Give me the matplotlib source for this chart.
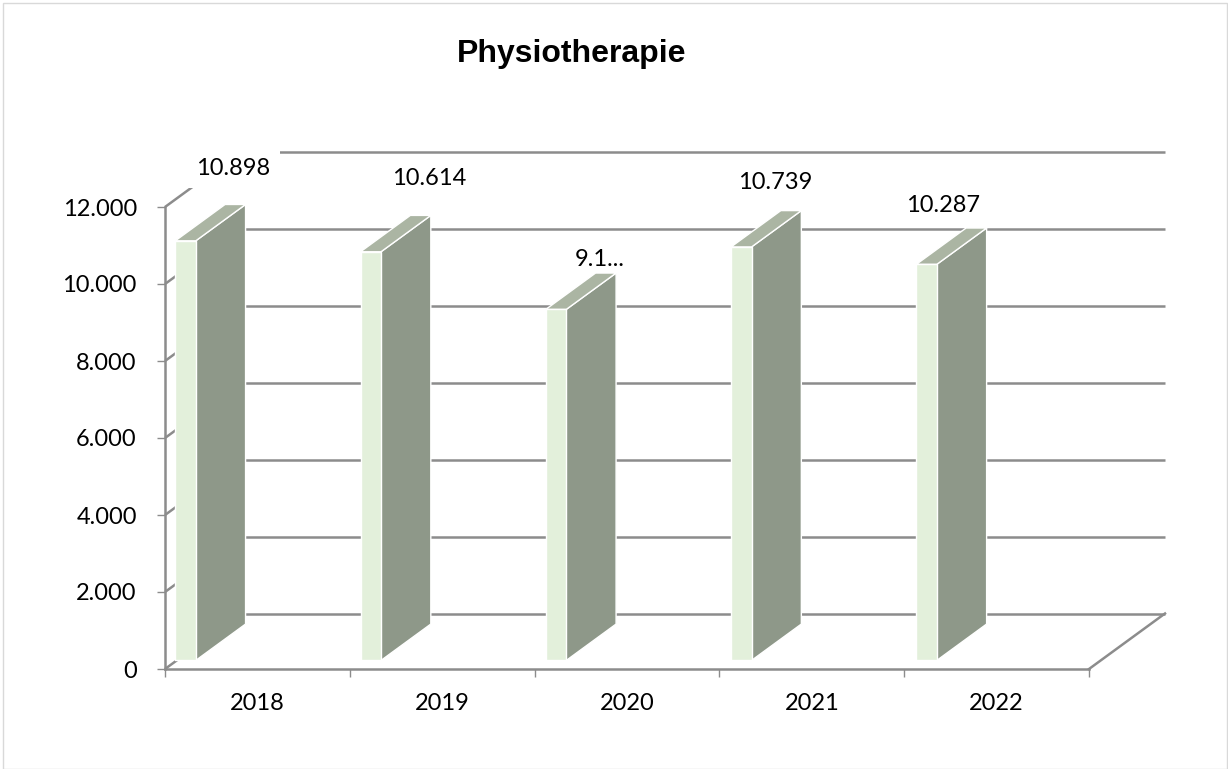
import matplotlib
matplotlib.use("Agg")
import matplotlib.pyplot as plt
from matplotlib.patches import Polygon, Rectangle

years = ["2018", "2019", "2020", "2021", "2022"]
values = [10898, 10614, 9117, 10739, 10287]
value_labels = ["10.898", "10.614", "9.1...", "10.739", "10.287"]
y_ticks = [0, 2000, 4000, 6000, 8000, 10000, 12000]
y_tick_labels = ["0", "2.000", "4.000", "6.000", "8.000", "10.000", "12.000"]

W, H = 1228, 769
FONT = "Lato"
LABEL_OFFSETS = [(48, 72), (58, 73), (44, 50), (34, 64), (16, 59)]
GRID = "#8C8C8C"
FRONT, SIDE, TOP = "#E3F0DB", "#8E9889", "#ABB5A3"

fig = plt.figure(figsize=(W / 100, H / 100), dpi=100, facecolor="white")
fig.add_artist(Rectangle((2.5 / W, 0.5 / H), (W - 4) / W, (H - 3) / H, transform=fig.transFigure,
                         fill=False, edgecolor="#D9D9D9", linewidth=1))

ax = fig.add_axes([165 / W, (H - 669) / H, 924 / W, 462 / H])
ax.set_xlim(0, 5)
ax.set_ylim(0, 12000)
ax.patch.set_alpha(0)

# wall depth in data units
DX = 76 / (924 / 5)
DY = 55.5 / (462 / 12000)

def sh(x, y, d):
    return (x + d * DX, y + d * DY)

# back wall gridlines and side-wall diagonals
for t in y_ticks:
    x0, y0 = sh(0, t, 1)
    x1, y1 = sh(5, t, 1)
    ax.plot([x0, x1], [y0, y1], color=GRID, lw=1.8, clip_on=False, zorder=1, solid_capstyle="butt")
    ax.plot([0, x0], [t, y0], color=GRID, lw=1.8, clip_on=False, zorder=1, solid_capstyle="butt")
x0, y0 = sh(5, 0, 0)
x1, y1 = sh(5, 0, 1)
ax.plot([x0, x1], [y0, y1], color=GRID, lw=1.8, clip_on=False, zorder=1)

# bars
BAR_W = 20.5 / (924 / 5)
BAR_SHIFT = -1.5 / (924 / 5)
BAR_STEP = 1.0025
D0, D1 = 0.155, 0.81
for i, v in enumerate(values):
    l = i * BAR_STEP + BAR_SHIFT
    r = l + BAR_W
    front = [sh(l, 0, D0), sh(r, 0, D0), sh(r, v, D0), sh(l, v, D0)]
    side = [sh(r, 0, D0), sh(r, 0, D1), sh(r, v, D1), sh(r, v, D0)]
    top = [sh(l, v, D0), sh(r, v, D0), sh(r, v, D1), sh(l, v, D1)]
    for pts, c in ((side, SIDE), (top, TOP), (front, FRONT)):
        ax.add_patch(Polygon(pts, closed=True, facecolor=c, edgecolor="white", linewidth=1,
                             clip_on=False, zorder=4, joinstyle="round"))
    ax.annotate(value_labels[i], xy=sh(l + BAR_W / 2, v, D0), xytext=LABEL_OFFSETS[i],
                textcoords="offset pixels", ha="center", va="center", family=FONT,
                fontsize=17, color="black", zorder=3, annotation_clip=False,
                bbox=dict(boxstyle="square,pad=0.38", facecolor="white", edgecolor="none"))

# axes
for s in ("top", "right"):
    ax.spines[s].set_visible(False)
for s in ("left", "bottom"):
    ax.spines[s].set_color(GRID)
    ax.spines[s].set_linewidth(1.8)
    ax.spines[s].set_zorder(2)
ax.set_yticks(y_ticks)
ax.set_yticklabels(y_tick_labels, family=FONT, fontsize=17, color="black")
ax.tick_params(axis="y", length=5.8, width=1, color=GRID, pad=14.5)
ax.set_xticks(range(6))
ax.set_xticklabels([""] * 6)
ax.tick_params(axis="x", which="major", length=5.8, width=1, color=GRID)
ax.set_xticks([i + 0.5 for i in range(5)], minor=True)
ax.set_xticklabels(years, minor=True, family=FONT, fontsize=17, color="black")
ax.tick_params(axis="x", which="minor", length=0, pad=17)

fig.text(572 / W, 1 - 54 / H, "Physiotherapie", family="Liberation Sans", fontweight="bold",
         fontsize=23, ha="center", va="center", color="black")

fig.savefig("out.png", dpi=100)
